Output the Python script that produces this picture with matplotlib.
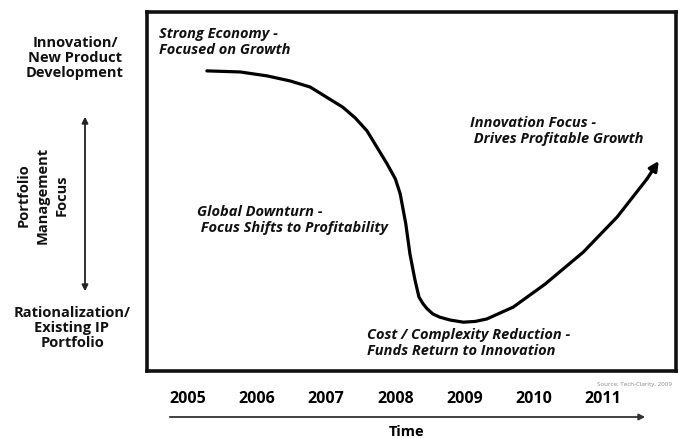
import numpy as np
import matplotlib.pyplot as plt
import matplotlib as mpl

mpl.rcParams.update({'font.family': ['Open Sans', 'DejaVu Sans']})

# curve: x in years, y on a 0-100 "focus" scale
years = [2005, 2006, 2007, 2008, 2009, 2010, 2011]
curve_x = [2005.28, 2005.76, 2006.15, 2006.48, 2006.77, 2007.24, 2007.42, 2007.59,
           2007.88, 2008.00, 2008.07, 2008.15, 2008.21, 2008.28, 2008.34, 2008.40,
           2008.46, 2008.54, 2008.64, 2008.79, 2008.98, 2009.15, 2009.32, 2009.70,
           2010.16, 2010.71, 2011.20, 2011.63, 2011.80]
curve_y = [83.6, 83.3, 82.2, 80.8, 79.1, 73.5, 70.5, 66.9,
           57.7, 53.5, 49.3, 41.0, 32.6, 25.6, 20.6, 18.7,
           17.3, 15.9, 15.0, 14.2, 13.6, 13.8, 14.5, 17.8,
           24.2, 33.1, 42.9, 53.5, 58.5]

W, H = 679, 439
fig = plt.figure(figsize=(W / 100, H / 100), dpi=100)
ax = fig.add_axes([147 / W, 1 - 372 / H, 529 / W, 359 / H])

def fx(px):
    return px / W

def fy(py):
    return 1 - py / H

ax.plot(curve_x[:-1], curve_y[:-1], color='black', lw=2.3,
        solid_capstyle='round', solid_joinstyle='round')
ax.annotate('', xy=(curve_x[-1], curve_y[-1]), xytext=(curve_x[-2], curve_y[-2]),
            arrowprops=dict(arrowstyle='-|>', color='black', lw=2.3,
                            mutation_scale=14, shrinkA=0, shrinkB=0))

ax.set_xlim(2004.416, 2012.049)
ax.set_ylim(0, 100)
ax.set_yticks([])
ax.set_xticks(years)
ax.set_xticklabels([str(y) for y in years], fontsize=11.5, fontweight='bold')
ax.tick_params(axis='x', length=0, pad=14)
for s in ax.spines.values():
    s.set_linewidth(2.6)
    s.set_color('#111111')

# annotations inside the box
note = dict(fontsize=10.5, fontweight='bold', style='italic', va='center',
            ha='left', linespacing=1.12, transform=fig.transFigure, color='#111111')
fig.text(fx(159), fy(42), 'Strong Economy -\nFocused on Growth', **note)
fig.text(fx(197), fy(220), 'Global Downturn -\n Focus Shifts to Profitability', **note)
fig.text(fx(470), fy(131), 'Innovation Focus -\n Drives Profitable Growth', **note)
fig.text(fx(367), fy(343), 'Cost / Complexity Reduction -\nFunds Return to Innovation', **note)

# left-hand axis description
side = dict(fontsize=10.5, fontweight='bold', ha='center', va='center',
            linespacing=1.1, transform=fig.transFigure, color='#111111')
fig.text(fx(75), fy(58), 'Innovation/\nNew Product\nDevelopment', **side)
fig.text(fx(72), fy(328), 'Rationalization/\nExisting IP\nPortfolio', **side)
fig.text(fx(43), fy(195), 'Portfolio\nManagement\nFocus', rotation=90,
         fontsize=10.5, fontweight='bold', ha='center', va='center',
         linespacing=1.45, transform=fig.transFigure, color='#111111')
fig.add_artist(mpl.patches.FancyArrowPatch(
    (fx(85), fy(115)), (fx(85), fy(295)), transform=fig.transFigure,
    arrowstyle='<|-|>', mutation_scale=9, lw=1.3, color='#222222'))

# time axis below
fig.add_artist(mpl.patches.FancyArrowPatch(
    (fx(167), fy(418)), (fx(648), fy(418)), transform=fig.transFigure,
    arrowstyle='-|>', mutation_scale=9, lw=1.3, color='#333333'))
fig.text(fx(407), fy(432), 'Time', fontsize=10.5, fontweight='bold',
         ha='center', va='center', transform=fig.transFigure)
fig.text(fx(672), fy(385), 'Source: Tech-Clarity, 2009', fontsize=4.5,
         color='#888888', ha='right', va='center', transform=fig.transFigure)

fig.savefig('out.png', dpi=100)
